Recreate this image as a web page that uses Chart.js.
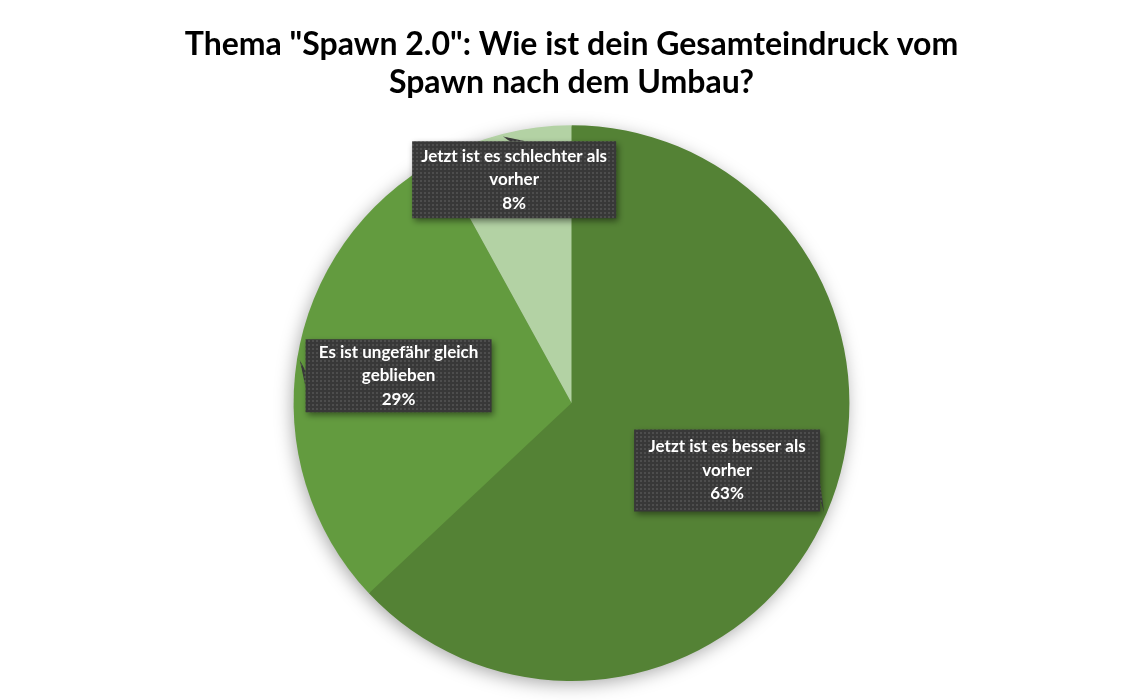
<!DOCTYPE html>
<html>
<head>
<meta charset="utf-8">
<script src="https://cdn.jsdelivr.net/npm/chart.js@4"></script>
<style>
  html, body { margin: 0; padding: 0; background: #fff; }
  #wrap { width: 1143px; height: 700px; }
</style>
</head>
<body>
<div id="wrap"><canvas id="pieChart"></canvas></div>
<script>
// Data
const categories = [
    ['Jetzt ist es besser als', 'vorher'],
    ['Es ist ungefähr gleich', 'geblieben'],
    ['Jetzt ist es schlechter als', 'vorher']
];
const shares = [63, 29, 8];
const sliceColors = ['#548235', '#639B3F', '#B3D2A4'];

// where each callout sits (fraction of radius along the slice middle) and its size
const calloutStyle = [
    { r: 0.61, w: 186, h: 82 },
    { r: 0.63, w: 186, h: 73 },
    { r: 0.83, w: 204, h: 77 }
];

// dotted dark fill for the callouts
function makePattern(ctx) {
    const p = document.createElement('canvas');
    p.width = 4; p.height = 4;
    const pc = p.getContext('2d');
    pc.fillStyle = '#383838';
    pc.fillRect(0, 0, 4, 4);
    pc.fillStyle = '#4d4d4d';
    pc.fillRect(0, 0, 2, 2);
    return ctx.createPattern(p, 'repeat');
}

const pieShadow = {
    id: 'pieShadow',
    beforeDatasetsDraw(chart) {
        const arc = chart.getDatasetMeta(0).data[0];
        if (!arc) return;
        const ctx = chart.ctx;
        ctx.save();
        ctx.shadowColor = 'rgba(0,0,0,0.35)';
        ctx.shadowBlur = 18;
        ctx.shadowOffsetX = -2;
        ctx.shadowOffsetY = 4;
        ctx.fillStyle = '#548235';
        ctx.beginPath();
        ctx.arc(arc.x, arc.y, arc.outerRadius - 1, 0, Math.PI * 2);
        ctx.fill();
        ctx.restore();
    }
};

const callouts = {
    id: 'callouts',
    afterDatasetsDraw(chart) {
        const ctx = chart.ctx;
        const meta = chart.getDatasetMeta(0);
        const pattern = makePattern(ctx);
        meta.data.forEach(function(arc, i) {
            const mid = (arc.startAngle + arc.endAngle) / 2;
            const st = calloutStyle[i];
            const cx = arc.x + Math.cos(mid) * arc.outerRadius * st.r;
            const cy = arc.y + Math.sin(mid) * arc.outerRadius * st.r;
            const tx = arc.x + Math.cos(mid) * arc.outerRadius * 0.99;
            const ty = arc.y + Math.sin(mid) * arc.outerRadius * 0.99;
            const x0 = cx - st.w / 2, y0 = cy - st.h / 2;

            // pointer base on the box edge nearest the tip
            let b1, b2;
            const dx = tx - cx, dy = ty - cy;
            if (Math.abs(dx) / st.w > Math.abs(dy) / st.h) {
                const ex = dx > 0 ? x0 + st.w : x0;
                const by = Math.max(y0 + 6, Math.min(y0 + st.h - 22, cy + dy * 0.3));
                b1 = [ex, by]; b2 = [ex, by + 16];
            } else {
                const ey = dy > 0 ? y0 + st.h : y0;
                const bx = Math.max(x0 + 6, Math.min(x0 + st.w - 22, cx + dx * 0.4));
                b1 = [bx, ey]; b2 = [bx + 16, ey];
            }

            ctx.save();
            ctx.shadowColor = 'rgba(0,0,0,0.45)';
            ctx.shadowBlur = 6;
            ctx.shadowOffsetX = 2;
            ctx.shadowOffsetY = 3;
            ctx.fillStyle = pattern;
            ctx.beginPath();
            ctx.rect(x0, y0, st.w, st.h);
            ctx.fill();
            ctx.shadowColor = 'transparent';
            ctx.beginPath();
            ctx.moveTo(b1[0], b1[1]);
            ctx.lineTo(tx, ty);
            ctx.lineTo(b2[0], b2[1]);
            ctx.closePath();
            ctx.fill();
            ctx.restore();

            const lines = categories[i].concat([shares[i] + '%']);
            ctx.save();
            ctx.fillStyle = '#ffffff';
            ctx.font = 'bold 17px Lato, "Open Sans", sans-serif';
            ctx.textAlign = 'center';
            ctx.textBaseline = 'middle';
            const lh = 23.5;
            lines.forEach(function(t, k) {
                ctx.fillText(t, cx, cy + (k - (lines.length - 1) / 2) * lh);
            });
            ctx.restore();
        });
    }
};

const ctx = document.getElementById('pieChart').getContext('2d');
const pieChart = new Chart(ctx, {
    type: 'pie',
    data: {
        labels: categories.map(function(c) { return c.join(' '); }),
        datasets: [{
            data: shares,
            backgroundColor: sliceColors,
            borderWidth: 0
        }]
    },
    options: {
        responsive: true,
        maintainAspectRatio: false,
        animation: false,
        layout: { padding: { bottom: 19 } },
        plugins: {
            legend: { display: false },
            tooltip: { enabled: false },
            title: {
                display: true,
                text: ['Thema "Spawn 2.0": Wie ist dein Gesamteindruck vom', 'Spawn nach dem Umbau?'],
                color: '#000000',
                font: { family: 'Lato, "Open Sans", sans-serif', size: 32, weight: 'bold', lineHeight: 1.19 },
                padding: { top: 26, bottom: 23 }
            }
        }
    },
    plugins: [pieShadow, callouts]
});
</script>
</body>
</html>
